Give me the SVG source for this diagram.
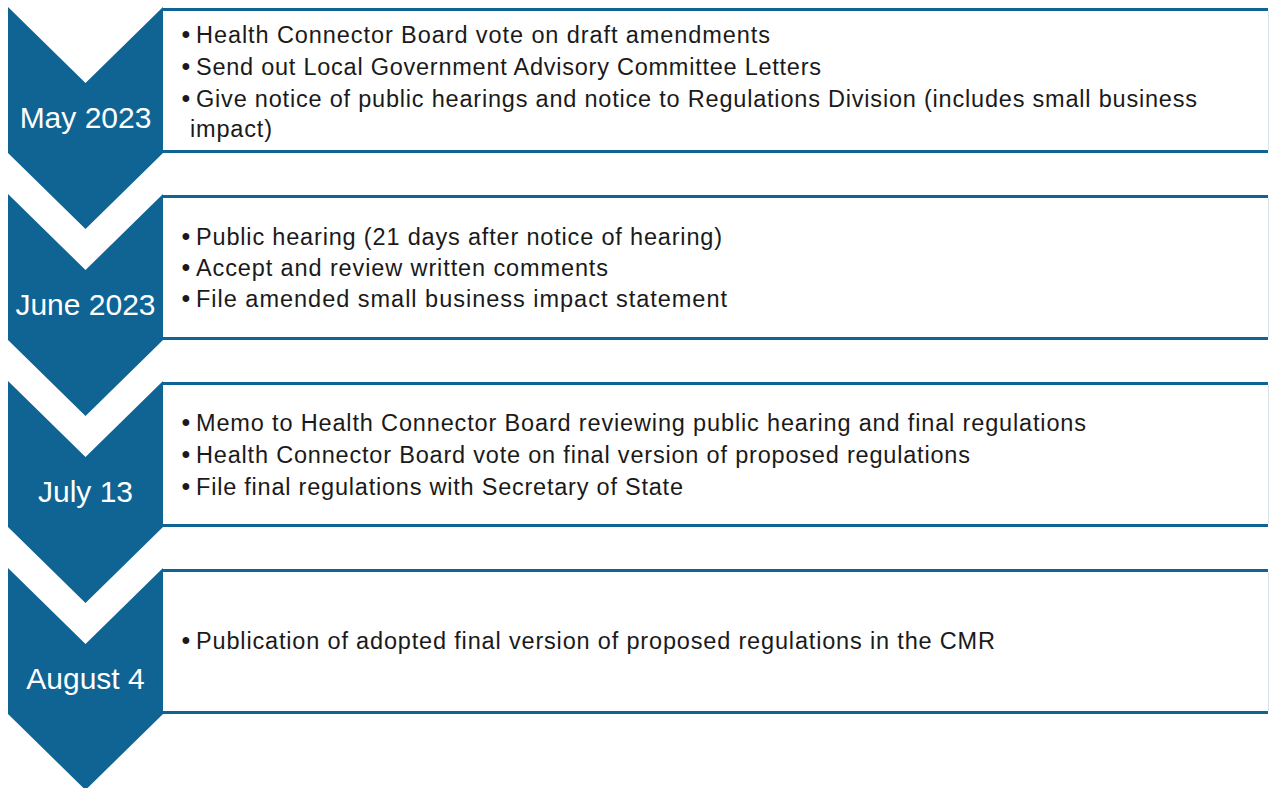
<svg xmlns="http://www.w3.org/2000/svg" width="1270" height="788" viewBox="0 0 1270 788">
  <style>
    .chev { fill: #0f6494; }
    .panel { fill: #ffffff; }
    .rule { stroke: #0f6494; stroke-width: 3; }
    .edge { stroke: #d6e1e9; stroke-width: 1; }
    .date { font-family: "Liberation Sans", Arial, sans-serif; font-size: 30px; fill: #ffffff; text-anchor: middle; }
    .item { font-family: "Liberation Sans", Arial, sans-serif; font-size: 23.5px; fill: #1a1a1a; }
    .dot { font-family: "Liberation Sans", Arial, sans-serif; font-size: 25px; fill: #1a1a1a; }
  </style>
  <defs>
    <!-- downward chevron with a notch at the top -->
    <path id="chevron" d="M8,0 L85.5,76 L163,0 L163,146 L85.5,222 L8,146 Z"/>
  </defs>

  <rect width="1270" height="788" fill="#ffffff"/>

  <!-- step 1 -->
  <g id="step-may">
    <g transform="translate(0,7)">
      <rect class="panel" x="163" y="2.5" width="1105" height="142"/>
      <line class="rule" x1="163" y1="2.5" x2="1268" y2="2.5"/>
      <line class="rule" x1="163" y1="144.5" x2="1268" y2="144.5"/>
      <line class="edge" x1="1268.5" y1="4" x2="1268.5" y2="143"/>
      <use href="#chevron" class="chev"/>
    </g>
    <text class="date" x="85.5" y="128">May 2023</text>
    <text class="dot" x="181.5" y="43">•</text>
    <text class="item" x="196" y="43" textLength="574" lengthAdjust="spacing">Health Connector Board vote on draft amendments</text>
    <text class="dot" x="181.5" y="75">•</text>
    <text class="item" x="196" y="75" textLength="625" lengthAdjust="spacing">Send out Local Government Advisory Committee Letters</text>
    <text class="dot" x="181.5" y="107">•</text>
    <text class="item" x="196" y="107" textLength="1001" lengthAdjust="spacing">Give notice of public hearings and notice to Regulations Division (includes small business</text>
    <text class="item" x="190" y="137" textLength="82" lengthAdjust="spacing">impact)</text>
  </g>

  <!-- step 2 -->
  <g id="step-june">
    <g transform="translate(0,194)">
      <rect class="panel" x="163" y="2.5" width="1105" height="142"/>
      <line class="rule" x1="163" y1="2.5" x2="1268" y2="2.5"/>
      <line class="rule" x1="163" y1="144.5" x2="1268" y2="144.5"/>
      <line class="edge" x1="1268.5" y1="4" x2="1268.5" y2="143"/>
      <use href="#chevron" class="chev"/>
    </g>
    <text class="date" x="85.5" y="315">June 2023</text>
    <text class="dot" x="181.5" y="245">•</text>
    <text class="item" x="196" y="245" textLength="526" lengthAdjust="spacing">Public hearing (21 days after notice of hearing)</text>
    <text class="dot" x="181.5" y="276">•</text>
    <text class="item" x="196" y="276" textLength="412" lengthAdjust="spacing">Accept and review written comments</text>
    <text class="dot" x="181.5" y="307">•</text>
    <text class="item" x="196" y="307" textLength="531" lengthAdjust="spacing">File amended small business impact statement</text>
  </g>

  <!-- step 3 -->
  <g id="step-july">
    <g transform="translate(0,381)">
      <rect class="panel" x="163" y="2.5" width="1105" height="142"/>
      <line class="rule" x1="163" y1="2.5" x2="1268" y2="2.5"/>
      <line class="rule" x1="163" y1="144.5" x2="1268" y2="144.5"/>
      <line class="edge" x1="1268.5" y1="4" x2="1268.5" y2="143"/>
      <use href="#chevron" class="chev"/>
    </g>
    <text class="date" x="85.5" y="502">July 13</text>
    <text class="dot" x="181.5" y="431">•</text>
    <text class="item" x="196" y="431" textLength="890" lengthAdjust="spacing">Memo to Health Connector Board reviewing public hearing and final regulations</text>
    <text class="dot" x="181.5" y="463">•</text>
    <text class="item" x="196" y="463" textLength="774" lengthAdjust="spacing">Health Connector Board vote on final version of proposed regulations</text>
    <text class="dot" x="181.5" y="495">•</text>
    <text class="item" x="196" y="495" textLength="487" lengthAdjust="spacing">File final regulations with Secretary of State</text>
  </g>

  <!-- step 4 -->
  <g id="step-august">
    <g transform="translate(0,568)">
      <rect class="panel" x="163" y="2.5" width="1105" height="142"/>
      <line class="rule" x1="163" y1="2.5" x2="1268" y2="2.5"/>
      <line class="rule" x1="163" y1="144.5" x2="1268" y2="144.5"/>
      <line class="edge" x1="1268.5" y1="4" x2="1268.5" y2="143"/>
      <use href="#chevron" class="chev"/>
    </g>
    <text class="date" x="85.5" y="689">August 4</text>
    <text class="dot" x="181.5" y="649">•</text>
    <text class="item" x="196" y="649" textLength="799" lengthAdjust="spacing">Publication of adopted final version of proposed regulations in the CMR</text>
  </g>

  <!-- the chevron stack carries the sequence; no separate connectors -->
  <g id="connectors"/>
</svg>
